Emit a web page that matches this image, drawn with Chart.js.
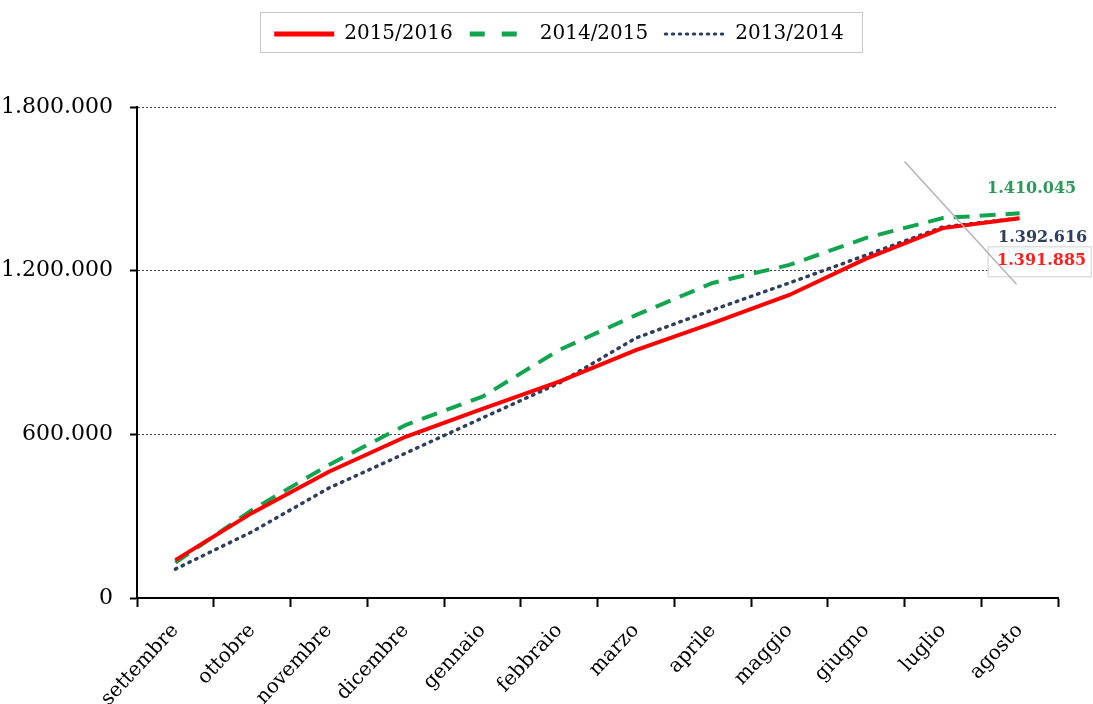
<!DOCTYPE html>
<html>
<head>
<meta charset="utf-8">
<script src="https://cdn.jsdelivr.net/npm/chart.js@4/dist/chart.umd.min.js"></script>
<style>
  html, body { margin: 0; padding: 0; background: #fff; }
  #wrap { width: 1093px; height: 704px; }
</style>
</head>
<body>
<div id="wrap"><canvas id="chart" width="1093" height="704"></canvas></div>
<script>
const months = ['settembre', 'ottobre', 'novembre', 'dicembre', 'gennaio', 'febbraio',
  'marzo', 'aprile', 'maggio', 'giugno', 'luglio', 'agosto'];

const s2015_2016 = [139000, 312000, 463000, 591000, 693000, 793000, 909000, 1008000, 1111000, 1244000, 1356000, 1391885];
const s2014_2015 = [130000, 323000, 488000, 634000, 738000, 909000, 1037000, 1155000, 1221000, 1320000, 1393000, 1410045];
const s2013_2014 = [106000, 243000, 403000, 531000, 660000, 788000, 953000, 1056000, 1155000, 1257000, 1360000, 1392616];

const yTicks = [0, 600000, 1200000, 1800000];

const serif = '"DejaVu Serif", "Liberation Serif", serif';
const fmt = v => v.toString().replace(/\B(?=(\d{3})+(?!\d))/g, '.');

const LEGEND_SHIFT = 30;

// legend spacing, box round the legend, end labels and the grey leader line
const extras = {
  id: 'extras',
  beforeInit(chart) {
    const lg = chart.legend;
    const fit = lg.fit;
    lg.fit = function () { fit.call(this); this.height = 100; };
    const draw = lg.draw;
    lg.draw = function () {
      this.left += LEGEND_SHIFT; this.right += LEGEND_SHIFT;
      draw.call(this);
      this.left -= LEGEND_SHIFT; this.right -= LEGEND_SHIFT;
    };
  },
  afterDraw(chart) {
    const ctx = chart.ctx;
    const boxes = chart.legend.legendHitBoxes;
    ctx.save();
    if (boxes && boxes.length) {
      const first = boxes[0], lastBox = boxes[boxes.length - 1];
      const l = Math.round(first.left + LEGEND_SHIFT - 14);
      const r = Math.round(lastBox.left + lastBox.width + LEGEND_SHIFT + 18);
      ctx.strokeStyle = '#c8c8c8';
      ctx.lineWidth = 1;
      ctx.strokeRect(l + 0.5, 12.5, r - l, 40);
    }

    const x = chart.scales.x, y = chart.scales.y;
    const last = months.length - 1;
    const px = x.getPixelForValue(last);
    ctx.font = 'bold 16px ' + serif;
    ctx.textAlign = 'center';
    ctx.textBaseline = 'middle';

    ctx.fillStyle = '#2e9a5a';
    ctx.fillText(fmt(s2014_2015[last]), px + 12, y.getPixelForValue(s2014_2015[last]) - 25);

    ctx.fillStyle = '#2f3e5e';
    ctx.fillText(fmt(s2013_2014[last]), px + 23, y.getPixelForValue(s2013_2014[last]) + 20);

    const ry = y.getPixelForValue(s2015_2016[last]) + 43;
    ctx.fillStyle = '#fff';
    ctx.fillRect(px - 32, ry - 15, 104, 31);
    ctx.strokeStyle = '#d0d0d0';
    ctx.lineWidth = 1;
    ctx.strokeRect(px - 31.5, ry - 14.5, 103, 30);
    ctx.fillStyle = '#ff1e1e';
    ctx.fillText(fmt(s2015_2016[last]), px + 22, ry);

    // grey leader line
    ctx.strokeStyle = '#b4b4b4';
    ctx.lineWidth = 1.5;
    ctx.beginPath();
    ctx.moveTo(x.getPixelForValue(9.5), y.getPixelForValue(1600000));
    ctx.lineTo(x.getPixelForValue(10.96), y.getPixelForValue(1150000));
    ctx.stroke();
    ctx.restore();
  }
};

new Chart(document.getElementById('chart'), {
  type: 'line',
  data: {
    labels: months,
    datasets: [
      { label: '2015/2016', data: s2015_2016, borderColor: '#ff0000', borderWidth: 4 },
      { label: '2014/2015', data: s2014_2015, borderColor: '#11a550', borderWidth: 4, borderDash: [16, 10] },
      { label: '2013/2014', data: s2013_2014, borderColor: '#2f3e5e', borderWidth: 3.5, borderDash: [1.5, 6], borderCapStyle: 'round' }
    ]
  },
  options: {
    responsive: false,
    animation: false,
    layout: { padding: { left: 0, right: 35, top: 7, bottom: 0 } },
    elements: {
      point: { radius: 0 },
      line: { tension: 0, fill: false }
    },
    plugins: {
      legend: {
        position: 'top',
        labels: {
          usePointStyle: true,
          pointStyleWidth: 60,
          boxHeight: 10,
          padding: 17,
          color: '#000',
          font: { family: serif, size: 20 },
          generateLabels(chart) {
            const legendDash = [[], [15, 17], [1.5, 5.5]];
            return chart.data.datasets.map((ds, i) => ({
              text: ds.label,
              datasetIndex: i,
              pointStyle: 'line',
              strokeStyle: ds.borderColor,
              fillStyle: ds.borderColor,
              lineWidth: i === 2 ? 3 : 5,
              lineDash: legendDash[i],
              lineCap: ds.borderCapStyle || 'butt',
              fontColor: '#000'
            }));
          }
        }
      },
      tooltip: { enabled: false }
    },
    scales: {
      x: {
        offset: true,
        afterFit(axis) { axis.height = 106; },
        grid: {
          offset: true,
          drawOnChartArea: false,
          drawTicks: true,
          tickLength: 9,
          tickWidth: 2,
          tickColor: '#000'
        },
        border: { color: '#000', width: 2 },
        ticks: {
          color: '#000',
          maxRotation: 47,
          minRotation: 47,
          padding: 12,
          font: { family: serif, size: 20 }
        }
      },
      y: {
        min: 0,
        max: 1800000,
        afterFit(axis) { axis.width = 137; },
        afterBuildTicks(axis) { axis.ticks = yTicks.map(v => ({ value: v })); },
        grid: {
          color: ctx => ctx.tick && ctx.tick.value === 0 ? 'rgba(0,0,0,0)' : '#444',
          lineWidth: 1,
          drawTicks: true,
          tickLength: 7,
          tickWidth: 2,
          tickColor: '#000',
          tickBorderDash: []
        },
        border: { color: '#000', width: 2, dash: [2, 2] },
        ticks: {
          color: '#000',
          padding: 17,
          font: { family: serif, size: 22 },
          callback: v => fmt(v)
        }
      }
    }
  },
  plugins: [extras]
});
</script>
</body>
</html>
